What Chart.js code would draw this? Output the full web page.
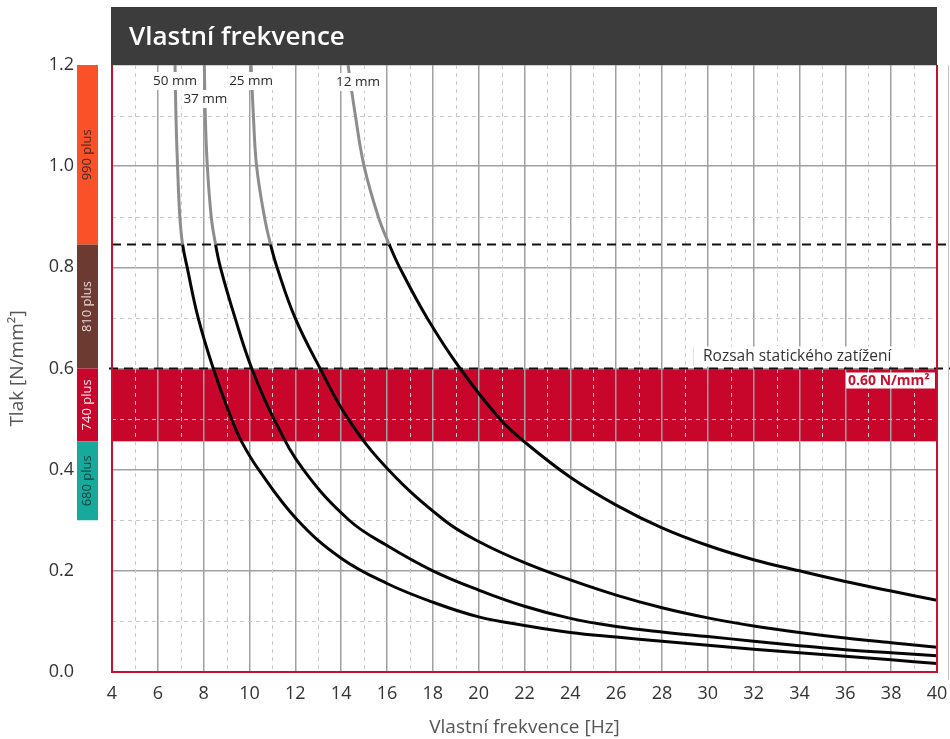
<!DOCTYPE html>
<html>
<head>
<meta charset="utf-8">
<script src="https://cdn.jsdelivr.net/npm/chart.js@4.4.0/dist/chart.umd.min.js"></script>
<style>
    html, body {margin: 0; padding: 0; background: #fff;}
    #wrap {width: 950px; height: 739px; position: relative;}
</style>
</head>
<body>
<div id="wrap"><canvas id="chart" width="950" height="739"></canvas></div>
<script>
// curves: frequency [Hz] / pressure [N/mm2] for each thickness
const hz50 = [6.75, 6.79, 6.86, 6.96, 7.08, 7.28, 7.76, 8.42, 9.22, 9.66, 10.4, 12.06, 14, 16, 18, 20, 22, 24, 26, 28, 30, 32, 34, 36, 38, 40];
const p50 = [1.2, 1.1, 1.0, 0.9, 0.845, 0.8, 0.7, 0.6, 0.5, 0.455, 0.4, 0.302, 0.225, 0.175, 0.138, 0.109, 0.092, 0.078, 0.069, 0.061, 0.053, 0.045, 0.038, 0.031, 0.024, 0.017];

const hz37 = [8.03, 8.07, 8.16, 8.33, 8.52, 8.73, 9.37, 10.1, 11.07, 12.35, 14.35, 16, 18, 20, 22, 24, 26, 28, 30, 32, 34, 36, 38, 40];
const p37 = [1.2, 1.1, 1.0, 0.9, 0.845, 0.8, 0.7, 0.6, 0.5, 0.4, 0.3, 0.25, 0.2, 0.162, 0.13, 0.106, 0.09, 0.079, 0.070, 0.061, 0.052, 0.044, 0.038, 0.032];

const hz25 = [10.07, 10.17, 10.31, 10.65, 10.92, 11.2, 11.99, 13.08, 14.31, 16.06, 18.5, 20, 22, 24, 26, 28, 30, 32, 34, 36, 38, 40];
const p25 = [1.2, 1.1, 1.0, 0.9, 0.845, 0.8, 0.7, 0.6, 0.5, 0.4, 0.3, 0.258, 0.216, 0.182, 0.152, 0.127, 0.107, 0.091, 0.078, 0.067, 0.058, 0.049];

const hz12 = [14.3, 14.62, 15.0, 15.62, 16.1, 16.55, 17.75, 19.19, 20.93, 22, 24, 26, 28, 30, 32, 34, 36, 38, 40];
const p12 = [1.2, 1.1, 1.0, 0.9, 0.845, 0.8, 0.7, 0.6, 0.5, 0.455, 0.385, 0.33, 0.285, 0.25, 0.222, 0.2, 0.179, 0.16, 0.142];

const curveNames = ['50 mm', '37 mm', '25 mm', '12 mm'];

const limitLine = 0.845;      // upper dashed line
const staticTop = 0.6;        // static load range
const staticBottom = 0.456;

// material classes on the left
const classNames = ['990 plus', '810 plus', '740 plus', '680 plus'];
const classFrom = [1.2, 0.845, 0.6, 0.456];
const classTo = [0.845, 0.6, 0.456, 0.3];
const classColors = ['#fb5129', '#6d3a31', '#c8062c', '#17aa9c'];
const classTextColors = ['#3b2a22', '#e6d9d5', '#fbe9ec', '#173d39'];

const RED = '#c8102e';
const FONT = '"Open Sans", sans-serif';

const toPoints = (xs, ys) => xs.map((x, i) => ({x: x, y: ys[i]}));
const curveData = [toPoints(hz50, p50), toPoints(hz37, p37), toPoints(hz25, p25), toPoints(hz12, p12)];

const segmentColor = ctx => (ctx.p0.parsed.y >= limitLine - 1e-6 && ctx.p1.parsed.y >= limitLine - 1e-6) ? '#8d8d8d' : '#050505';

const backdrop = {
    id: 'backdrop',
    beforeDraw(chart) {
        const {ctx, chartArea: a, scales: {y}} = chart;
        ctx.save();
        ctx.fillStyle = '#c8062c';
        ctx.fillRect(a.left, y.getPixelForValue(staticTop), a.right - a.left, y.getPixelForValue(staticBottom) - y.getPixelForValue(staticTop));
        ctx.restore();
    },
    beforeDatasetsDraw(chart) {
        const {ctx, chartArea: a, scales: {x, y}} = chart;
        ctx.save();
        // minor dashed grid
        ctx.strokeStyle = '#c9c9c9';
        ctx.lineWidth = 1;
        ctx.setLineDash([4, 4]);
        for (let v = 5; v < 40; v += 2) {
            const px = Math.round(x.getPixelForValue(v)) + 0.5;
            ctx.beginPath(); ctx.moveTo(px, a.top); ctx.lineTo(px, a.bottom); ctx.stroke();
        }
        for (let k = 1; k < 12; k += 2) {
            const py = Math.round(y.getPixelForValue(k / 10)) + 0.5;
            ctx.beginPath(); ctx.moveTo(a.left, py); ctx.lineTo(a.right, py); ctx.stroke();
        }
        // black dashed limits
        ctx.strokeStyle = '#111';
        ctx.lineWidth = 2;
        ctx.setLineDash([9, 6]);
        let py = y.getPixelForValue(limitLine);
        ctx.beginPath(); ctx.moveTo(a.left, py); ctx.lineTo(946, py); ctx.stroke();
        py = y.getPixelForValue(staticTop);
        ctx.beginPath(); ctx.moveTo(a.left - 3, py); ctx.lineTo(950, py); ctx.stroke();
        ctx.restore();
    },
    afterDraw(chart) {
        const {ctx, chartArea: a, scales: {x, y}} = chart;
        ctx.save();
        // header
        ctx.fillStyle = '#3c3c3c';
        ctx.fillRect(a.left - 1, 7, a.right - a.left + 1, a.top - 7);
        ctx.fillStyle = '#fff';
        ctx.font = '600 26px ' + FONT;
        ctx.textBaseline = 'alphabetic';
        ctx.fillText('Vlastní frekvence', 129, 45);

        // red frame
        ctx.strokeStyle = RED;
        ctx.lineWidth = 2;
        ctx.beginPath();
        ctx.moveTo(a.left, a.top); ctx.lineTo(a.left, a.bottom);
        ctx.lineTo(a.right, a.bottom); ctx.lineTo(a.right, a.top);
        ctx.stroke();

        // right edge line
        ctx.strokeStyle = '#c4c4c4';
        ctx.lineWidth = 1;
        ctx.beginPath(); ctx.moveTo(948.5, a.top); ctx.lineTo(948.5, a.bottom + 8); ctx.stroke();

        // class bars
        classNames.forEach((name, i) => {
            const top = y.getPixelForValue(classFrom[i]);
            const bot = y.getPixelForValue(classTo[i]);
            ctx.fillStyle = classColors[i];
            ctx.fillRect(77, top, 21, bot - top);
            ctx.save();
            ctx.translate(87.5, (top + bot) / 2);
            ctx.rotate(-Math.PI / 2);
            ctx.fillStyle = classTextColors[i];
            ctx.font = '13px ' + FONT;
            ctx.textAlign = 'center';
            ctx.textBaseline = 'middle';
            ctx.fillText(name, 0, 0);
            ctx.restore();
        });

        // curve labels
        const starts = [hz50[0], hz37[0], hz25[0], hz12[0]];
        const labelY = [81, 99, 81, 82];
        const labelDx = [0, 1, 0, 10];
        ctx.font = '13.5px ' + FONT;
        ctx.textAlign = 'center';
        ctx.textBaseline = 'middle';
        curveNames.forEach((name, i) => {
            const cx = x.getPixelForValue(starts[i]) + labelDx[i];
            const w = ctx.measureText(name).width + 4;
            ctx.fillStyle = 'rgba(255,255,255,0.95)';
            ctx.fillRect(cx - w / 2, labelY[i] - 9, w, 18);
            ctx.fillStyle = '#2a2a2a';
            ctx.fillText(name, cx, labelY[i] + 0.5);
        });

        // static range label
        const sy = y.getPixelForValue(staticTop);
        ctx.fillStyle = '#fff';
        ctx.fillRect(693, sy - 22, 237, 20);
        ctx.strokeStyle = '#e2e2e2';
        ctx.beginPath(); ctx.moveTo(693.5, sy - 22); ctx.lineTo(693.5, sy - 2); ctx.stroke();
        ctx.fillStyle = '#333';
        ctx.font = '15.5px ' + FONT;
        ctx.textAlign = 'left';
        ctx.fillText('Rozsah statického zatížení', 703, sy - 12);

        ctx.fillStyle = '#fff';
        ctx.fillRect(846, sy + 4, 89, 16);
        ctx.fillStyle = RED;
        ctx.font = 'bold 14px ' + FONT;
        ctx.fillText('0.60 N/mm²', 848, sy + 12.5);
        ctx.restore();
    }
};

new Chart(document.getElementById('chart'), {
    type: 'line',
    data: {
        datasets: curveData.map((pts, i) => ({
            label: curveNames[i],
            data: pts,
            borderColor: '#050505',
            borderWidth: 3,
            pointRadius: 0,
            tension: 0.4,
            segment: {borderColor: segmentColor}
        }))
    },
    options: {
        responsive: false,
        animation: false,
        devicePixelRatio: 1,
        layout: {padding: {top: 65, right: 13, left: 0, bottom: 0}},
        plugins: {legend: {display: false}, tooltip: {enabled: false}},
        scales: {
            x: {
                type: 'linear',
                min: 4,
                max: 40,
                afterFit: s => { s.height = 67; s.paddingLeft = 0; s.paddingRight = 0; },
                border: {display: false},
                grid: {
                    drawTicks: false,
                    lineWidth: 1.5,
                    color: c => (c.tick && Math.round(c.tick.value) % 2 === 0) ? '#a0a0a0' : 'rgba(0,0,0,0)'
                },
                ticks: {
                    stepSize: 1,
                    autoSkip: false,
                    maxRotation: 0,
                    padding: 11,
                    color: '#333',
                    font: {family: FONT, size: 18},
                    callback: v => (Math.round(v) % 2 === 0 ? String(v) : '')
                },
                title: {
                    display: true,
                    text: 'Vlastní frekvence [Hz]',
                    color: '#555',
                    font: {family: FONT, size: 19},
                    padding: {top: 0, bottom: 0}
                }
            },
            y: {
                min: 0,
                max: 1.2,
                afterFit: s => { s.width = 112; s.paddingTop = 0; s.paddingBottom = 0; },
                border: {display: false},
                grid: {
                    drawTicks: false,
                    lineWidth: 1.5,
                    color: c => (c.tick && Math.round(c.tick.value * 10) % 2 === 0) ? '#a0a0a0' : 'rgba(0,0,0,0)'
                },
                ticks: {
                    stepSize: 0.1,
                    padding: 38,
                    color: '#333',
                    font: {family: FONT, size: 18},
                    callback: v => (Math.round(v * 10) % 2 === 0 ? v.toFixed(1) : '')
                },
                title: {
                    display: true,
                    text: 'Tlak [N/mm²]',
                    color: '#555',
                    font: {family: FONT, size: 19},
                    padding: {top: 6, bottom: 0}
                }
            }
        }
    },
    plugins: [backdrop]
});
</script>
</body>
</html>
